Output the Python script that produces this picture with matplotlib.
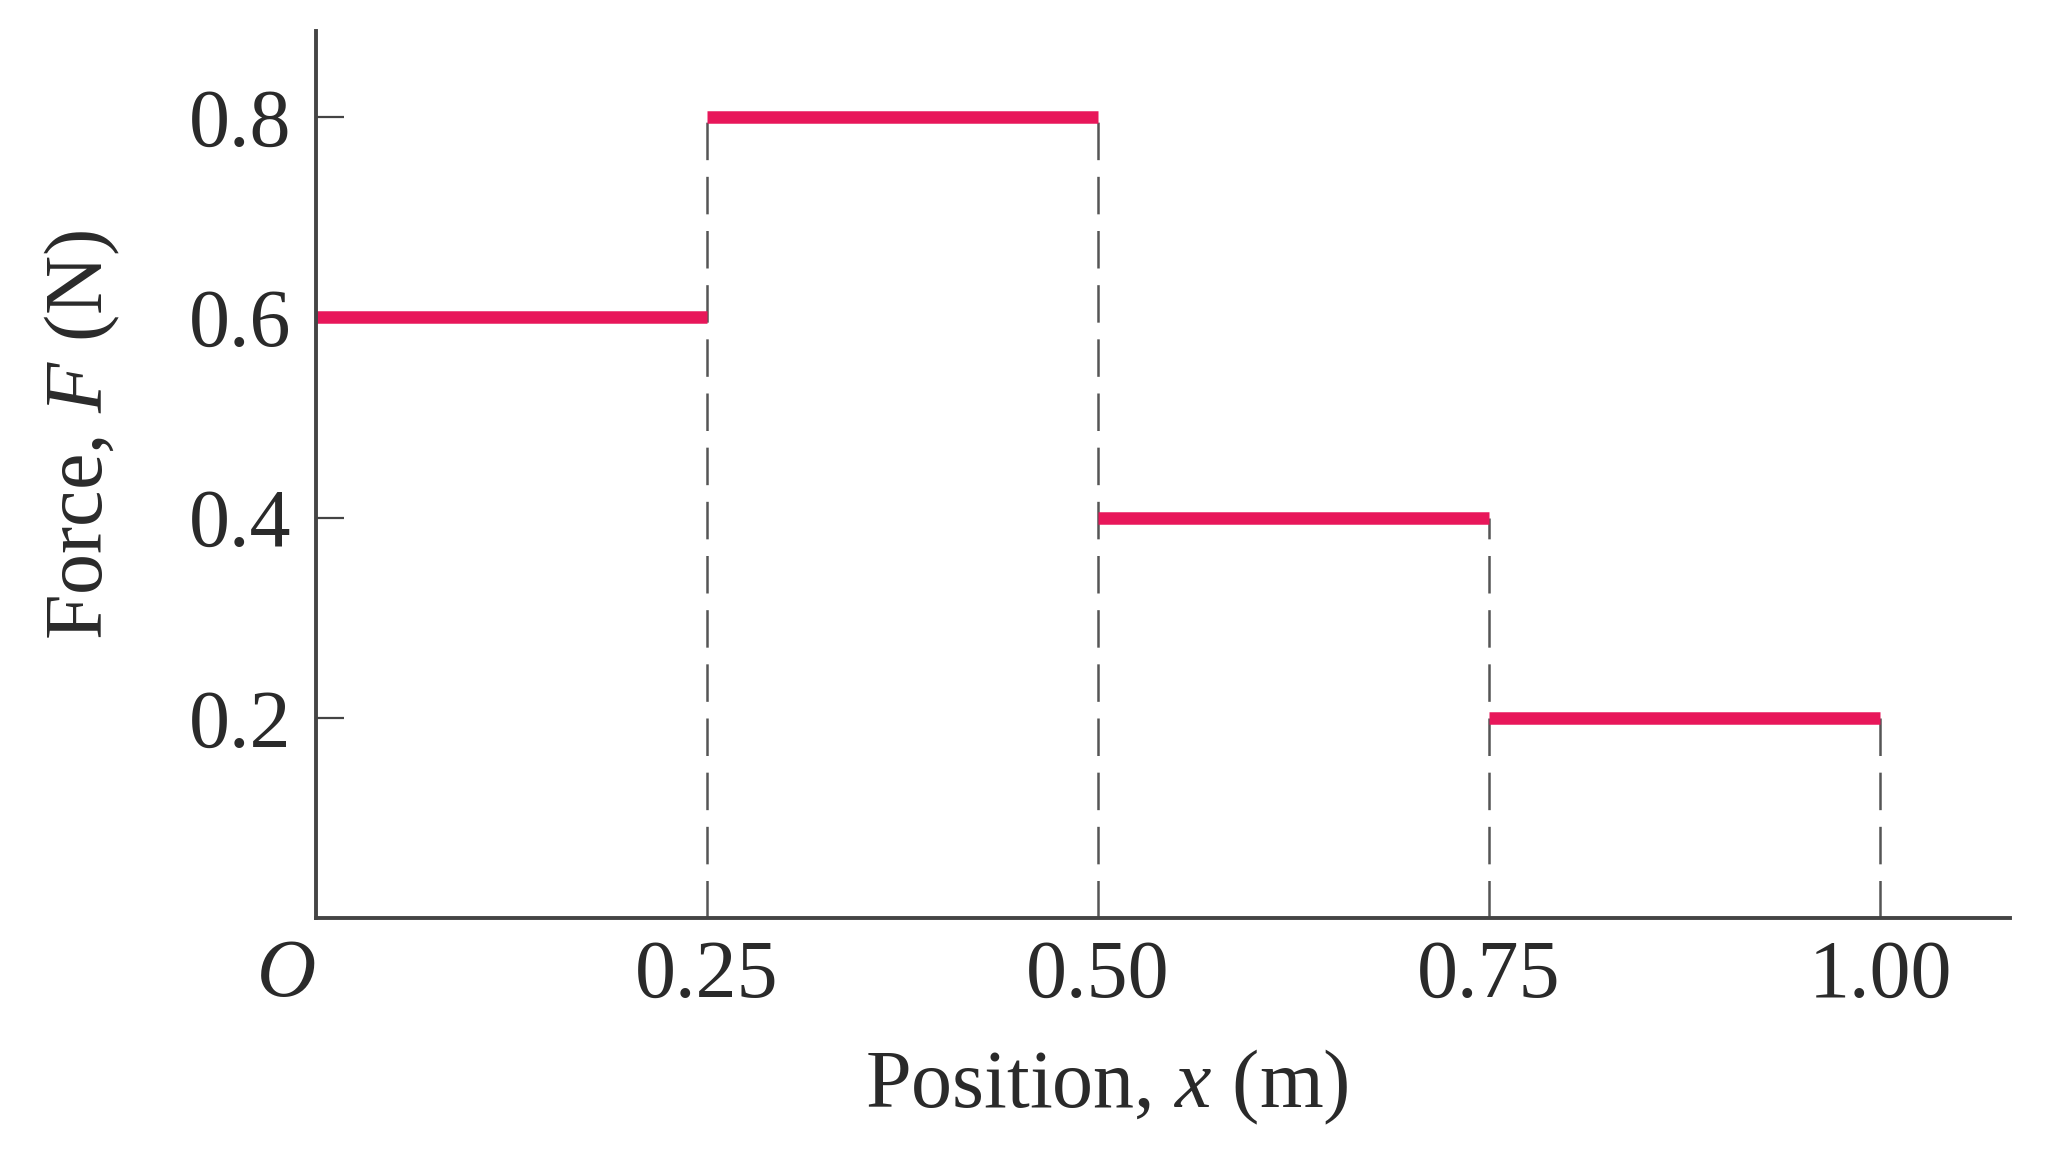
import matplotlib
matplotlib.use("Agg")
import matplotlib.pyplot as plt

# Data
edges = [0.0, 0.25, 0.50, 0.75, 1.00]
forces = [0.6, 0.8, 0.4, 0.2]
xtick_vals = [0.0, 0.25, 0.50, 0.75, 1.00]
xtick_labels = ["O", "0.25", "0.50", "0.75", "1.00"]
ytick_vals = [0.2, 0.4, 0.6, 0.8]
ytick_labels = ["0.2", "0.4", "0.6", "0.8"]

plt.rcParams['font.family'] = ['Liberation Serif', 'DejaVu Serif']
plt.rcParams['mathtext.fontset'] = 'custom'
plt.rcParams['mathtext.rm'] = 'Liberation Serif'
plt.rcParams['mathtext.it'] = 'Liberation Serif:italic'
plt.rcParams['lines.scale_dashes'] = False

W, H = 2046, 1164
fig = plt.figure(figsize=(W / 100, H / 100), dpi=100)
ax = fig.add_axes([316 / W, 1 - 918 / H, (2010 - 316) / W, (918 - 31) / H])

red = '#e8175a'
gray = '#555555'
txt = '#2a2a2a'

# dashed verticals up to the higher adjacent level
for i, xe in enumerate(edges[1:], start=1):
    left = forces[i - 1]
    right = forces[i] if i < len(forces) else 0
    ax.plot([xe, xe], [0, max(left, right)], color=gray, lw=1.8,
            dashes=(27, 12), zorder=1)

for i, f in enumerate(forces):
    ax.plot([edges[i], edges[i + 1]], [f, f], color=red, lw=9,
            solid_capstyle='butt', zorder=3)

ax.set_xlim(0, 1.083)
ax.set_ylim(0, 0.886)

for s in ['top', 'right']:
    ax.spines[s].set_visible(False)
for s in ['left', 'bottom']:
    ax.spines[s].set_color('#444444')
    ax.spines[s].set_linewidth(2.8)
    ax.spines[s].set_zorder(4)

ax.set_xticks(xtick_vals)
ax.set_xticklabels(xtick_labels)
ax.set_yticks(ytick_vals)
ax.set_yticklabels(ytick_labels)
ax.tick_params(axis='x', length=0, pad=15, labelsize=59, labelcolor=txt)
ax.tick_params(axis='y', direction='in', length=20, width=1.6, color='#444444',
               pad=18, labelsize=59, labelcolor=txt)
for lbl in ax.get_xticklabels()[1:]:
    lbl.set_x(lbl.get_position()[0])
lbl0 = ax.get_xticklabels()[0]
lbl0.set_style('italic')
lbl0.set_ha('right')

ax.set_xlabel('Position, $x$ (m)', fontsize=59, color=txt)
ax.set_ylabel('Force, $F$ (N)', fontsize=59, color=txt)
ax.xaxis.set_label_coords(0.467, -0.146)
ax.yaxis.set_label_coords(-0.1145, 0.545)

fig.savefig('out.png', dpi=100, facecolor='white')
